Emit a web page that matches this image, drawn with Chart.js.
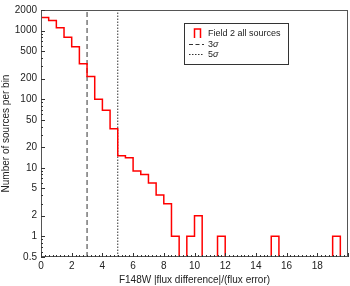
<!DOCTYPE html>
<html><head><meta charset="utf-8">
<script src="https://cdn.jsdelivr.net/npm/chart.js@4"></script>
<style>html,body{margin:0;padding:0;background:#fff}#w{width:350px;height:286px}</style>
</head><body><div id="w"><canvas id="c" width="350" height="286"></canvas></div>
<script>
// bin left edges (width 0.5) and counts
const binEdges = [0,0.5,1,1.5,2,2.5,3,3.5,4,4.5,5,5.5,6,6.5,7,7.5,8,8.5,9,9.5,10,10.5,11,11.5,12,12.5,13,13.5,14,14.5,15,15.5,16,16.5,17,17.5,18,18.5,19,19.5,20];
const counts = [1550,1400,1100,800,580,330,215,100,69,37,15,14,9,8,6,4,3,1,0,1,2,0,0,1,0,0,0,0,0,0,1,0,0,0,0,0,0,0,1,0];
const yTicks = [0.5,1,2,5,10,20,50,100,200,500,1000,2000];
const xTicks = [0,2,4,6,8,10,12,14,16,18];
const sigmaLines = [3,5];
const legendLabels = ['Field 2 all sources','3','5'];

const LOW = 0.3; // empty bins drawn below the axis floor (clipped)
const histPts = [{x:0,y:LOW}];
counts.forEach((c,i)=>histPts.push({x:binEdges[i], y: c>0?c:LOW}));
histPts.push({x:binEdges[binEdges.length-1], y:LOW});

const ink = '#222';
const spine = '#555';
const font = "'Liberation Sans', Arial, sans-serif";

const decor = {
  id:'decor',
  afterDraw(chart){
    const {ctx, chartArea:a, scales:{x,y}} = chart;
    ctx.save();
    ctx.strokeStyle = spine; ctx.lineWidth = 1;
    ctx.strokeRect(Math.round(a.left)+0.5, Math.round(a.top)+0.5, Math.round(a.right-a.left)-1, Math.round(a.bottom-a.top)-1);
    // x ticks
    ctx.strokeStyle = '#333';
    for(let v=0; v<=20.001; v+=0.25){
      const px = Math.round(x.getPixelForValue(v))+0.5;
      const major = Math.abs(v/2-Math.round(v/2))<1e-6;
      ctx.beginPath(); ctx.moveTo(px, a.bottom); ctx.lineTo(px, a.bottom-(major?4:2)); ctx.stroke();
    }
    // y ticks (log minor)
    for(let d=0.1; d<3000; d*=10){
      for(let m=1;m<10;m++){
        const v = d*m; if(v<0.5-1e-9||v>2000+1e-9) continue;
        const py = Math.round(y.getPixelForValue(v))+0.5;
        const major = yTicks.some(t=>Math.abs(t-v)<1e-9);
        ctx.beginPath(); ctx.moveTo(a.left, py); ctx.lineTo(a.left+(major?4:2), py); ctx.stroke();
      }
    }
    // legend
    const bx=184.5, by=23.5, bw=104, bh=41;
    ctx.fillStyle='#fff'; ctx.fillRect(bx,by,bw,bh);
    ctx.strokeStyle='#333'; ctx.lineWidth=1; ctx.strokeRect(bx,by,bw,bh);
    ctx.strokeStyle='#ff0000'; ctx.lineWidth=1.5;
    ctx.beginPath(); ctx.moveTo(194.5,38); ctx.lineTo(194.5,29); ctx.lineTo(200.5,29); ctx.lineTo(200.5,38); ctx.stroke();
    ctx.strokeStyle='#333'; ctx.lineWidth=1;
    ctx.setLineDash([4,2.5]); ctx.beginPath(); ctx.moveTo(189,44.5); ctx.lineTo(204,44.5); ctx.stroke();
    ctx.setLineDash([1.5,1.5]); ctx.beginPath(); ctx.moveTo(189,54.5); ctx.lineTo(204,54.5); ctx.stroke();
    ctx.setLineDash([]);
    ctx.fillStyle=ink; ctx.textBaseline='middle'; ctx.textAlign='left';
    ctx.font = "9px "+font;
    ctx.fillText(legendLabels[0], 208, 33.5);
    ctx.fillText(legendLabels[1], 208, 44.5);
    ctx.fillText(legendLabels[2], 208, 54.5);
    const w3 = ctx.measureText('3').width;
    ctx.font = "italic 9px "+font;
    ctx.fillText('σ', 208+w3, 44.5);
    ctx.fillText('σ', 208+w3, 54.5);
    ctx.restore();
  }
};

new Chart(document.getElementById('c'), {
  type:'line',
  data:{datasets:[
    {data:histPts, stepped:true, borderColor:'#ff0000', borderWidth:1.5, pointRadius:0, fill:false, clip:0},
    {data:[{x:sigmaLines[0],y:0.5},{x:sigmaLines[0],y:2000}], borderColor:'#333', borderWidth:1, borderDash:[5,3], pointRadius:0},
    {data:[{x:sigmaLines[1],y:0.5},{x:sigmaLines[1],y:2000}], borderColor:'#333', borderWidth:1, borderDash:[1.5,1.5], pointRadius:0}
  ]},
  options:{
    responsive:false, animation:false, devicePixelRatio:1,
    layout:{padding:{left:0,right:2,top:5,bottom:0}},
    plugins:{legend:{display:false}, tooltip:{enabled:false}},
    scales:{
      x:{type:'linear', min:0, max:20,
        grid:{display:false, drawTicks:false}, border:{display:false},
        afterBuildTicks(s){ s.ticks = xTicks.map(v=>({value:v})); },
        afterFit(s){ s.height = 29; },
        ticks:{color:ink, font:{family:font,size:10}, padding:3, maxRotation:0, autoSkip:false},
        title:{display:true, text:'F148W |flux difference|/(flux error)', color:ink, font:{family:font,size:10}, padding:{top:1,bottom:0}}
      },
      y:{type:'logarithmic', min:0.5, max:2000,
        grid:{display:false, drawTicks:false}, border:{display:false},
        afterBuildTicks(s){ s.ticks = yTicks.map(v=>({value:v})); },
        afterFit(s){ s.width = 41; },
        ticks:{color:ink, font:{family:font,size:10}, padding:4, autoSkip:false, callback:(v)=>String(v)},
        title:{display:true, text:'Number of sources per bin', color:ink, font:{family:font,size:10}, padding:{top:0,bottom:2}}
      }
    }
  },
  plugins:[decor]
});
</script></body></html>
